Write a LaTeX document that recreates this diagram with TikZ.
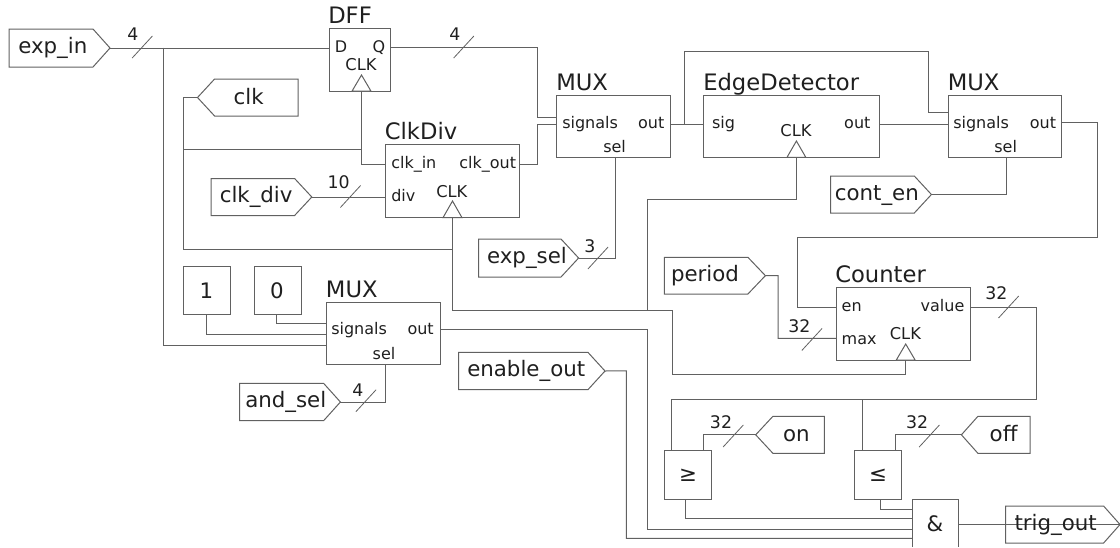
\documentclass[tikz,border=0pt]{standalone}
\usepackage{fontspec}
\setmainfont{DejaVu Sans}
\definecolor{ln}{gray}{0.38}
\definecolor{tx}{gray}{0.12}
\tikzset{
  blk/.style={draw=ln,line width=0.75pt,inner sep=0pt,outer sep=0pt},
  wire/.style={draw=ln,line width=0.75pt,line join=miter},
  slash/.style={draw=ln,line width=0.6pt},
  tri/.style={draw=ln,line width=0.75pt,fill=white,line join=miter},
  lbl/.style={font=\fontsize{12}{12}\selectfont,text=tx,inner sep=0pt},
  clkl/.style={font=\fontsize{12.2}{12}\selectfont,text=tx,inner sep=0pt,anchor=base},
  big/.style={font=\fontsize{16}{16}\selectfont,text=tx,inner sep=0pt},
  ttl/.style={font=\fontsize{17}{17}\selectfont,text=tx,inner sep=0pt,anchor=base west},
  num/.style={font=\fontsize{13}{13}\selectfont,text=tx,inner sep=0pt,anchor=base}
}
\newcommand\bx[5]{\pgfmathsetmacro\bw{(#4-#2)*0.75}\pgfmathsetmacro\bh{(#5-#3)*0.75}%
  \node[blk,minimum width=\bw pt,minimum height=\bh pt] (#1) at ({(#2+#4)/2},{(#3+#5)/2}) {};}
% tag polygons: name, flat end x, shoulder x, tip x, top y, bottom y
\newcommand\tg[6]{\draw[blk,line join=miter] (#2,#5) -- (#3,#5) -- (#4,{(#5+#6)/2}) -- (#3,#6) -- (#2,#6) -- cycle;
  \coordinate (#1) at (#4,{(#5+#6)/2});}
% clock triangle: name, centre x, base y, apex y
\newcommand\ck[4]{\draw[tri] ({#2-9.4},#3) -- (#2,#4) -- ({#2+9.4},#3) -- cycle;
  \coordinate (#1) at (#2,#3);}
% bus slash: name, centre x, centre y
\newcommand\sla[3]{\coordinate (#1a) at ({#2-10.1},{#3+11}); \coordinate (#1b) at ({#2+10.1},{#3-11});
  \draw[slash] (#1a) -- (#1b);}
\begin{document}
\begin{tikzpicture}[x=0.75pt,y=-0.75pt]
\useasboundingbox (0,0) rectangle (1120,547);
\coordinate (jin) at (163,47.5);
\coordinate (jclk) at (183,149.5);
\coordinate (jclkb) at (183,249.5);
\coordinate (jq) at (537.5,47.5);
\coordinate (jout) at (684.6,124);
\coordinate (jdiv) at (452.5,249.5);
\coordinate (jedge) at (647.9,310.7);
\coordinate (jval) at (862.5,399);
\coordinate (jck) at (361.5,149.5);

% blocks
\bx{dff}{329.3}{28.5}{390.4}{91}
\bx{clkdiv}{385.7}{144.5}{519.6}{217.5}
\bx{muxa}{556.5}{95}{670}{157}
\bx{edge}{703.2}{95}{879.6}{157.3}
\bx{muxb}{948.2}{95}{1061.8}{157}
\bx{muxc}{326.4}{302}{440}{364.3}
\bx{cnt}{836}{287}{970}{360}
\bx{one}{183.2}{266}{230.4}{314.7}
\bx{zero}{254.3}{266}{301.8}{314.7}
\bx{geq}{664.3}{450.3}{711.4}{499}
\bx{leq}{854.6}{450.3}{901.4}{499}
\node[inner sep=0pt,outer sep=0pt,minimum width=34.9pt,minimum height=35.5pt] (andg) at (935.35,523.35) {};
\draw[wire] (andg.south west) -- (andg.north west) -- (andg.north east) -- (andg.south east);

% tags
\tg{expin}{9}{93}{110}{29}{67}
\tg{clkt}{298}{214.6}{197.5}{79}{116}
\tg{clkdivt}{211}{294.6}{311.8}{178.5}{215.5}
\tg{expsel}{478.6}{561}{578.6}{239}{277}
\tg{conten}{830.7}{914.3}{931.4}{176}{213}
\tg{period}{664.3}{747.9}{765.4}{257.3}{294}
\tg{andsel}{239.6}{323.6}{340.4}{383.3}{420.7}
\tg{enout}{458.6}{587.9}{605}{352.3}{389.7}
\tg{ont}{824.3}{772.9}{755.7}{416.3}{453.3}
\tg{offt}{1030}{977.9}{961.4}{416.3}{453.3}
\tg{trig}{1005.7}{1103.6}{1120}{506}{543}

% clock triangles
\ck{dffck}{361.5}{91}{75}
\ck{divck}{452.5}{217.5}{201}
\ck{edgeck}{796.4}{157.3}{141}
\ck{cntck}{905.7}{360}{344}

% wires
\draw[wire] (expin) -- (dff.west |- expin);
\draw[wire] (jin) |- (muxc.west |- 0,345.3);
\draw[wire] (dff.east |- jq) -- (jq) |- (muxa.west |- 0,117);
\draw[wire] (clkt) -| (jclkb) -- (jdiv);
\draw[wire] (jclk) -- (jck);
\draw[wire] (dffck) -- (361.5,164.5) -- (clkdiv.west |- 0,164.5);
\draw[wire] (clkdiv.east |- 0,164) -| (jq |- 0,124.5) -- (muxa.west |- 0,124.5);
\draw[wire] (clkdivt) -- (clkdiv.west |- clkdivt);
\draw[wire] (divck) -- (452.5,310.7) -- (672.5,310.7) -- (672.5,374.3) -| (cntck);
\draw[wire] (jedge) -- (647.9,199.5) -| (edgeck);
\draw[wire] (muxa.east |- jout) -- (edge.west |- jout);
\draw[wire] (jout) -- (684.6,51) -- (928.2,51) -- (928.2,112.3) -- (muxb.west |- 0,112.3);
\draw[wire] (edge.east |- jout) -- (muxb.west |- jout);
\draw[wire] (615.7,157) |- (expsel);
\draw[wire] (1006.4,157) |- (conten);
\draw[wire] (muxb.east |- 0,122) -- (1097,122) -- (1097,237) -- (797.5,237) -- (797.5,307) -- (cnt.west |- 0,307);
\draw[wire] (period) -- (778.2,275.5) -- (778.2,338.3) -- (cnt.west |- 0,338.3);
\draw[wire] (cnt.east |- 0,307) -- (1036.8,307) -- (1036.8,399) -- (671.4,399) -- (671.4,450.3);
\draw[wire] (jval) -- (862.5,450.3);
\draw[wire] (ont) -- (703.6,434.8) -- (703.6,450.3);
\draw[wire] (offt) -- (895,434.8) -- (895,450.3);
\draw[wire] (685,499) |- (andg.west |- 0,518.7);
\draw[wire] (880,499) |- (andg.west |- 0,509.7);
\draw[wire] (muxc.east |- 0,329) -- (647.9,329) |- (andg.west |- 0,529);
\draw[wire] (enout) -- (626.4,370.8) |- (andg.west |- 0,538.3);
\draw[wire] (andg.east |- 0,524.5) -- (trig);
\draw[wire] (one.south) |- (muxc.west |- 0,334);
\draw[wire] (276.8,314.7) |- (muxc.west |- 0,323.3);
\draw[wire] (385.4,364.3) |- (andsel);

% bus slashes
\sla{sa}{142.3}{47}
\sla{sb}{463.8}{47}
\sla{sc}{350.5}{196.5}
\sla{sd}{598}{258}
\sla{se}{366}{400.7}
\sla{sf}{811.9}{339.5}
\sla{sg}{1008.6}{307}
\sla{sh}{733.2}{436}
\sla{si}{929.3}{436}

% numbers
\node[num] (na) at (133,40.7) {4};
\node[num] (nb) at (455,40.7) {4};
\node[num] (nc) at (338.6,188.7) {10};
\node[num] (nd) at (590,252.3) {3};
\node[num] (ne) at (358,396.3) {4};
\node[num] (nf) at (799.3,332) {32};
\node[num] (ng) at (996.4,299.3) {32};
\node[num] (nh) at (721,428.3) {32};
\node[num] (ni) at (917.1,428.3) {32};

% titles
\node[ttl] (tdff) at (328,23.3) {DFF};
\node[ttl] (tdiv) at (384.6,139) {ClkDiv};
\node[ttl] (tmuxa) at (556,90.7) {MUX};
\node[ttl] (tedge) at (703,90.7) {EdgeDetector};
\node[ttl] (tmuxb) at (947.5,90.7) {MUX};
\node[ttl] (tmuxc) at (325.7,297) {MUX};
\node[ttl] (tcnt) at (835,282) {Counter};

% port labels
\node[lbl,anchor=base] (ld) at (341,52.3) {D};
\node[lbl,anchor=base] (lq) at (379,52.3) {Q};
\node[clkl] (lck) at (361,70) {CLK};
\node[lbl,anchor=base west] (lci) at (391,168.3) {clk\_in};
\node[lbl,anchor=base east] (lco) at (516.4,168.3) {clk\_out};
\node[lbl,anchor=base west] (ldiv) at (391,201.7) {div};
\node[clkl] (lck2) at (451.8,197.3) {CLK};
\node[lbl,anchor=base west] (lsa) at (562,128) {signals};
\node[lbl,anchor=base east] (loa) at (664.6,128) {out};
\node[lbl,anchor=base] (lsea) at (614.6,152.7) {sel};
\node[lbl,anchor=base west] (lsig) at (711.8,128) {sig};
\node[clkl] (lck3) at (796,136) {CLK};
\node[lbl,anchor=base east] (loe) at (870.7,128) {out};
\node[lbl,anchor=base west] (lsb) at (953,128) {signals};
\node[lbl,anchor=base east] (lob) at (1056.4,128) {out};
\node[lbl,anchor=base] (lseb) at (1005.7,152.7) {sel};
\node[lbl,anchor=base west] (lsc) at (331,334.7) {signals};
\node[lbl,anchor=base east] (loc) at (434,334.7) {out};
\node[lbl,anchor=base] (lsec) at (384,359.3) {sel};
\node[lbl,anchor=base west] (len) at (841.4,311) {en};
\node[lbl,anchor=base east] (lval) at (964.6,311) {value};
\node[lbl,anchor=base west] (lmax) at (841.4,344.3) {max};
\node[clkl] (lck4) at (905.4,339.3) {CLK};

% tag and block texts
\node[big,anchor=base west] (xexp) at (18,53.5) {exp\_in};
\node[big,anchor=base] (xclk) at (248.6,104) {clk};
\node[big,anchor=base west] (xdiv) at (219.5,202) {clk\_div};
\node[big,anchor=base west] (xsel) at (486.8,263.3) {exp\_sel};
\node[big,anchor=base] (xcon) at (876.8,200) {cont\_en};
\node[big,anchor=base] (xper) at (705,281.3) {period};
\node[big,anchor=base] (xone) at (206.4,298.7) {1};
\node[big,anchor=base] (xzero) at (277,298.7) {0};
\node[big,anchor=base west] (xand) at (245,407) {and\_sel};
\node[big,anchor=base west] (xen) at (467,376.3) {enable\_out};
\node[big,anchor=base] (xon) at (796.4,441) {on};
\node[big,anchor=base] (xoff) at (1003.6,441) {off};
\node[big] (xgeq) at (688,475) {≥};
\node[big] (xleq) at (878,475) {≤};
\node[big,anchor=base] (xamp) at (935,531.3) {\&};
\node[big,anchor=base] (xtrig) at (1055.7,530.3) {trig\_out};
\end{tikzpicture}
\end{document}
